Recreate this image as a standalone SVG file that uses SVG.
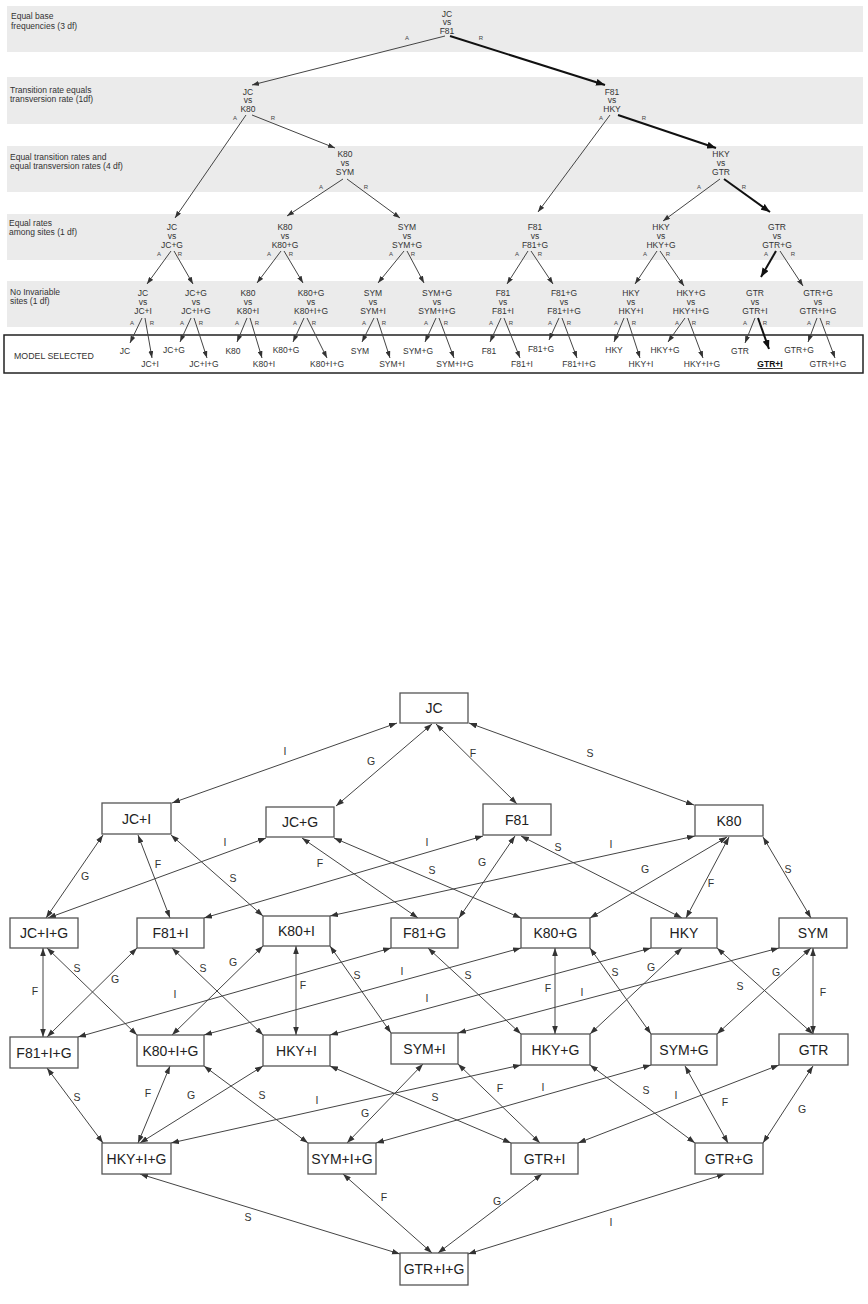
<svg xmlns="http://www.w3.org/2000/svg" width="868" height="1304" viewBox="0 0 868 1304">
<style>
text{font-family:"Liberation Sans",Arial,sans-serif}
.band{fill:#ebebeb}
.bt{font-size:8.5px;fill:#333}
.tn{font-size:8.5px;fill:#333;text-anchor:middle}
.ar{font-size:6px;fill:#444;text-anchor:middle}
.ms{font-size:8.5px;fill:#333;text-anchor:middle}
.tl{stroke:#444;stroke-width:1;fill:none;marker-end:url(#ta)}
.tk{stroke:#111;stroke-width:2;fill:none;marker-end:url(#tk)}
.box{fill:#fff;stroke:#555;stroke-width:1.3}
.nt{font-size:14px;fill:#222;text-anchor:middle}
.e{stroke:#444;stroke-width:1;fill:none;marker-start:url(#la);marker-end:url(#la)}
.el{font-size:10.5px;fill:#333;text-anchor:middle}
</style>
<defs>
<marker id="ta" markerUnits="userSpaceOnUse" markerWidth="7" markerHeight="5" refX="7" refY="2.5" orient="auto"><path d="M0,0 L7,2.5 L0,5 z" fill="#333"/></marker>
<marker id="tk" markerUnits="userSpaceOnUse" markerWidth="9" markerHeight="7" refX="9" refY="3.5" orient="auto"><path d="M0,0 L9,3.5 L0,7 z" fill="#111"/></marker>
<marker id="la" markerUnits="userSpaceOnUse" markerWidth="8" markerHeight="6" refX="8" refY="3" orient="auto-start-reverse"><path d="M0,0.2 L8,3 L0,5.8 z" fill="#333"/></marker>
</defs>
<rect width="868" height="1304" fill="#fff"/>

<g id="bands">
<rect class="band" x="7" y="6" width="856" height="46"/>
<rect class="band" x="7" y="77" width="856" height="47"/>
<rect class="band" x="7" y="146" width="856" height="46"/>
<rect class="band" x="7" y="214" width="856" height="46"/>
<rect class="band" x="7" y="281" width="856" height="46"/>
<text class="bt" x="11" y="19">Equal base</text>
<text class="bt" x="11" y="29">frequencies (3 df)</text>
<text class="bt" x="10" y="93">Transition rate equals</text>
<text class="bt" x="10" y="102">transversion rate (1df)</text>
<text class="bt" x="10" y="159.5">Equal transition rates and</text>
<text class="bt" x="10" y="168.5">equal transversion rates (4 df)</text>
<text class="bt" x="9" y="225.5">Equal rates</text>
<text class="bt" x="9" y="234.5">among sites (1 df)</text>
<text class="bt" x="10" y="294.5">No Invariable</text>
<text class="bt" x="10" y="303.5">sites (1 df)</text>
<rect x="4" y="335" width="859" height="38" fill="#fff" stroke="#222" stroke-width="1.5"/>
<text x="14" y="359" style="font-size:8.8px;fill:#333">MODEL SELECTED</text>
</g>

<g id="tree-nodes">
<g id="t-jc-f81"><text class="tn" x="447" y="16.5">JC</text><text class="tn" x="447" y="25">vs</text><text class="tn" x="447" y="33.5">F81</text><text class="ar" x="407" y="40">A</text><text class="ar" x="481" y="40">R</text></g>
<g id="t-jc-k80"><text class="tn" x="248" y="94.5">JC</text><text class="tn" x="248" y="103">vs</text><text class="tn" x="248" y="112">K80</text><text class="ar" x="235" y="120">A</text><text class="ar" x="273" y="120">R</text></g>
<g id="t-f81-hky"><text class="tn" x="612" y="94.5">F81</text><text class="tn" x="612" y="103">vs</text><text class="tn" x="612" y="112">HKY</text><text class="ar" x="601" y="120">A</text><text class="ar" x="644" y="120">R</text></g>
<g id="t-k80-sym"><text class="tn" x="345" y="157">K80</text><text class="tn" x="345" y="166">vs</text><text class="tn" x="345" y="175">SYM</text><text class="ar" x="321" y="189">A</text><text class="ar" x="366" y="189">R</text></g>
<g id="t-hky-gtr"><text class="tn" x="721" y="157">HKY</text><text class="tn" x="721" y="166">vs</text><text class="tn" x="721" y="175">GTR</text><text class="ar" x="699" y="189">A</text><text class="ar" x="744" y="189">R</text></g>

<g id="t-jc-jcg"><text class="tn" x="172" y="230">JC</text><text class="tn" x="172" y="239">vs</text><text class="tn" x="172" y="248">JC+G</text><text class="ar" x="159" y="256">A</text><text class="ar" x="180" y="256">R</text></g>
<g id="t-k80-k80g"><text class="tn" x="285" y="230">K80</text><text class="tn" x="285" y="239">vs</text><text class="tn" x="285" y="248">K80+G</text><text class="ar" x="269" y="256">A</text><text class="ar" x="291" y="256">R</text></g>
<g id="t-sym-symg"><text class="tn" x="407" y="230">SYM</text><text class="tn" x="407" y="239">vs</text><text class="tn" x="407" y="248">SYM+G</text><text class="ar" x="391" y="256">A</text><text class="ar" x="413" y="256">R</text></g>
<g id="t-f81-f81g"><text class="tn" x="535" y="230">F81</text><text class="tn" x="535" y="239">vs</text><text class="tn" x="535" y="248">F81+G</text><text class="ar" x="517" y="256">A</text><text class="ar" x="540" y="256">R</text></g>
<g id="t-hky-hkyg"><text class="tn" x="661" y="230">HKY</text><text class="tn" x="661" y="239">vs</text><text class="tn" x="661" y="248">HKY+G</text><text class="ar" x="645" y="256">A</text><text class="ar" x="668" y="256">R</text></g>
<g id="t-gtr-gtrg"><text class="tn" x="777" y="230">GTR</text><text class="tn" x="777" y="239">vs</text><text class="tn" x="777" y="248">GTR+G</text><text class="ar" x="766" y="256">A</text><text class="ar" x="793" y="256">R</text></g>

<g id="t-jc-jci"><text class="tn" x="143" y="296">JC</text><text class="tn" x="143" y="305">vs</text><text class="tn" x="143" y="314">JC+I</text><text class="ar" x="132" y="325">A</text><text class="ar" x="152" y="325">R</text></g>
<g id="t-jcg-jcig"><text class="tn" x="196" y="296">JC+G</text><text class="tn" x="196" y="305">vs</text><text class="tn" x="196" y="314">JC+I+G</text><text class="ar" x="182" y="325">A</text><text class="ar" x="201" y="325">R</text></g>
<g id="t-k80-k80i"><text class="tn" x="248" y="296">K80</text><text class="tn" x="248" y="305">vs</text><text class="tn" x="248" y="314">K80+I</text><text class="ar" x="237" y="325">A</text><text class="ar" x="257" y="325">R</text></g>
<g id="t-k80g-k80ig"><text class="tn" x="311" y="296">K80+G</text><text class="tn" x="311" y="305">vs</text><text class="tn" x="311" y="314">K80+I+G</text><text class="ar" x="295" y="325">A</text><text class="ar" x="314" y="325">R</text></g>
<g id="t-sym-symi"><text class="tn" x="373" y="296">SYM</text><text class="tn" x="373" y="305">vs</text><text class="tn" x="373" y="314">SYM+I</text><text class="ar" x="364" y="325">A</text><text class="ar" x="384" y="325">R</text></g>
<g id="t-symg-symig"><text class="tn" x="437" y="296">SYM+G</text><text class="tn" x="437" y="305">vs</text><text class="tn" x="437" y="314">SYM+I+G</text><text class="ar" x="426" y="325">A</text><text class="ar" x="446" y="325">R</text></g>
<g id="t-f81-f81i"><text class="tn" x="503" y="296">F81</text><text class="tn" x="503" y="305">vs</text><text class="tn" x="503" y="314">F81+I</text><text class="ar" x="491" y="325">A</text><text class="ar" x="511" y="325">R</text></g>
<g id="t-f81g-f81ig"><text class="tn" x="564" y="296">F81+G</text><text class="tn" x="564" y="305">vs</text><text class="tn" x="564" y="314">F81+I+G</text><text class="ar" x="550" y="325">A</text><text class="ar" x="569" y="325">R</text></g>
<g id="t-hky-hkyi"><text class="tn" x="631" y="296">HKY</text><text class="tn" x="631" y="305">vs</text><text class="tn" x="631" y="314">HKY+I</text><text class="ar" x="616" y="325">A</text><text class="ar" x="634" y="325">R</text></g>
<g id="t-hkyg-hkyig"><text class="tn" x="691" y="296">HKY+G</text><text class="tn" x="691" y="305">vs</text><text class="tn" x="691" y="314">HKY+I+G</text><text class="ar" x="677" y="325">A</text><text class="ar" x="694" y="325">R</text></g>
<g id="t-gtr-gtri"><text class="tn" x="755" y="296">GTR</text><text class="tn" x="755" y="305">vs</text><text class="tn" x="755" y="314">GTR+I</text><text class="ar" x="745" y="325">A</text><text class="ar" x="765" y="325">R</text></g>
<g id="t-gtrg-gtrig"><text class="tn" x="818" y="296">GTR+G</text><text class="tn" x="818" y="305">vs</text><text class="tn" x="818" y="314">GTR+I+G</text><text class="ar" x="809" y="325">A</text><text class="ar" x="828" y="325">R</text></g>
</g>

<g id="selected-models">
<text class="ms" x="125" y="354">JC</text><text class="ms" x="150" y="367">JC+I</text>
<text class="ms" x="174" y="353">JC+G</text><text class="ms" x="204" y="367">JC+I+G</text>
<text class="ms" x="233" y="354">K80</text><text class="ms" x="264" y="367">K80+I</text>
<text class="ms" x="286" y="353">K80+G</text><text class="ms" x="327" y="367">K80+I+G</text>
<text class="ms" x="360" y="354">SYM</text><text class="ms" x="392" y="367">SYM+I</text>
<text class="ms" x="418" y="354">SYM+G</text><text class="ms" x="455" y="367">SYM+I+G</text>
<text class="ms" x="489" y="354">F81</text><text class="ms" x="522" y="367">F81+I</text>
<text class="ms" x="541" y="352">F81+G</text><text class="ms" x="579" y="367">F81+I+G</text>
<text class="ms" x="614" y="353">HKY</text><text class="ms" x="641" y="367">HKY+I</text>
<text class="ms" x="665" y="353">HKY+G</text><text class="ms" x="702" y="367">HKY+I+G</text>
<text class="ms" x="740" y="354">GTR</text>
<text class="ms" x="770" y="367" style="font-weight:bold;fill:#111;text-decoration:underline">GTR+I</text>
<text class="ms" x="799" y="353">GTR+G</text><text class="ms" x="828" y="367">GTR+I+G</text>
</g>

<g id="tree-connectors">
<line class="tl" x1="445" y1="36" x2="252" y2="85"/>
<line class="tk" x1="450" y1="36" x2="605" y2="85"/>
<line class="tl" x1="246" y1="115" x2="175" y2="218"/>
<line class="tl" x1="252" y1="115" x2="335" y2="148"/>
<line class="tl" x1="610" y1="115" x2="538" y2="212"/>
<line class="tk" x1="618" y1="115" x2="716" y2="148"/>
<line class="tl" x1="343" y1="179" x2="287" y2="216"/>
<line class="tl" x1="347" y1="179" x2="400" y2="218"/>
<line class="tl" x1="720" y1="179" x2="663" y2="221"/>
<line class="tk" x1="724" y1="179" x2="770" y2="212"/>

<line class="tl" x1="171" y1="251" x2="147" y2="284"/>
<line class="tl" x1="174" y1="251" x2="193" y2="284"/>
<line class="tl" x1="281" y1="251" x2="257" y2="283"/>
<line class="tl" x1="284" y1="251" x2="303" y2="283"/>
<line class="tl" x1="404" y1="251" x2="378" y2="283"/>
<line class="tl" x1="407" y1="251" x2="424" y2="283"/>
<line class="tl" x1="528" y1="251" x2="507" y2="284"/>
<line class="tl" x1="531" y1="251" x2="553" y2="284"/>
<line class="tl" x1="657" y1="251" x2="635" y2="284"/>
<line class="tl" x1="660" y1="251" x2="684" y2="286"/>
<line class="tk" x1="776" y1="251" x2="761" y2="277"/>
<line class="tl" x1="780" y1="251" x2="803" y2="286"/>

<line class="tl" x1="142" y1="318" x2="130" y2="343"/>
<line class="tl" x1="145" y1="318" x2="152" y2="358"/>
<line class="tl" x1="191" y1="318" x2="180" y2="342"/>
<line class="tl" x1="194" y1="318" x2="207" y2="358"/>
<line class="tl" x1="247" y1="318" x2="237" y2="342"/>
<line class="tl" x1="250" y1="318" x2="262" y2="358"/>
<line class="tl" x1="304" y1="318" x2="293" y2="342"/>
<line class="tl" x1="307" y1="318" x2="327" y2="358"/>
<line class="tl" x1="374" y1="318" x2="362" y2="342"/>
<line class="tl" x1="377" y1="318" x2="390" y2="358"/>
<line class="tl" x1="436" y1="318" x2="425" y2="342"/>
<line class="tl" x1="439" y1="318" x2="454" y2="358"/>
<line class="tl" x1="501" y1="318" x2="490" y2="342"/>
<line class="tl" x1="504" y1="318" x2="520" y2="358"/>
<line class="tl" x1="559" y1="318" x2="549" y2="340"/>
<line class="tl" x1="562" y1="318" x2="577" y2="358"/>
<line class="tl" x1="624" y1="318" x2="614" y2="342"/>
<line class="tl" x1="627" y1="318" x2="640" y2="358"/>
<line class="tl" x1="685" y1="318" x2="668" y2="342"/>
<line class="tl" x1="688" y1="318" x2="703" y2="358"/>
<line class="tl" x1="755" y1="318" x2="745" y2="343"/>
<line class="tk" x1="758" y1="318" x2="769" y2="349"/>
<line class="tl" x1="817" y1="318" x2="808" y2="342"/>
<line class="tl" x1="820" y1="318" x2="835" y2="358"/>
</g>

<g id="lattice-connectors">
<line class="e" x1="397" y1="723" x2="172" y2="803"/>
<line class="e" x1="432" y1="724" x2="336" y2="806"/>
<line class="e" x1="436" y1="724" x2="517" y2="804"/>
<line class="e" x1="469" y1="723" x2="694" y2="805"/>
<line class="e" x1="103" y1="835" x2="46" y2="918"/>
<line class="e" x1="138" y1="835" x2="170" y2="918"/>
<line class="e" x1="171" y1="835" x2="263" y2="916"/>
<line class="e" x1="266" y1="838" x2="48" y2="918"/>
<line class="e" x1="302" y1="838" x2="418" y2="918"/>
<line class="e" x1="334" y1="838" x2="521" y2="918"/>
<line class="e" x1="483" y1="836" x2="204" y2="918"/>
<line class="e" x1="515" y1="836" x2="459" y2="918"/>
<line class="e" x1="521" y1="836" x2="682" y2="918"/>
<line class="e" x1="695" y1="836" x2="330" y2="916"/>
<line class="e" x1="727" y1="837" x2="590" y2="918"/>
<line class="e" x1="729" y1="837" x2="686" y2="918"/>
<line class="e" x1="763" y1="837" x2="811" y2="918"/>
<line class="e" x1="43" y1="948" x2="43" y2="1037"/>
<line class="e" x1="47" y1="948" x2="137" y2="1035"/>
<line class="e" x1="137" y1="948" x2="47" y2="1037"/>
<line class="e" x1="172" y1="948" x2="263" y2="1035"/>
<line class="e" x1="263" y1="946" x2="172" y2="1035"/>
<line class="e" x1="296" y1="946" x2="296" y2="1035"/>
<line class="e" x1="330" y1="946" x2="391" y2="1033"/>
<line class="e" x1="391" y1="948" x2="78" y2="1037"/>
<line class="e" x1="428" y1="948" x2="521" y2="1034"/>
<line class="e" x1="521" y1="948" x2="204" y2="1035"/>
<line class="e" x1="555" y1="948" x2="555" y2="1034"/>
<line class="e" x1="590" y1="948" x2="651" y2="1034"/>
<line class="e" x1="651" y1="948" x2="330" y2="1035"/>
<line class="e" x1="682" y1="948" x2="590" y2="1034"/>
<line class="e" x1="717" y1="948" x2="813" y2="1034"/>
<line class="e" x1="779" y1="948" x2="458" y2="1033"/>
<line class="e" x1="811" y1="948" x2="717" y2="1034"/>
<line class="e" x1="813" y1="948" x2="813" y2="1034"/>
<line class="e" x1="47" y1="1068" x2="103" y2="1143"/>
<line class="e" x1="170" y1="1066" x2="138" y2="1143"/>
<line class="e" x1="263" y1="1066" x2="140" y2="1143"/>
<line class="e" x1="521" y1="1065" x2="171" y2="1143"/>
<line class="e" x1="204" y1="1066" x2="308" y2="1143"/>
<line class="e" x1="423" y1="1064" x2="347" y2="1143"/>
<line class="e" x1="651" y1="1065" x2="376" y2="1143"/>
<line class="e" x1="330" y1="1066" x2="511" y2="1143"/>
<line class="e" x1="458" y1="1064" x2="540" y2="1143"/>
<line class="e" x1="590" y1="1065" x2="695" y2="1143"/>
<line class="e" x1="685" y1="1066" x2="728" y2="1143"/>
<line class="e" x1="779" y1="1065" x2="578" y2="1143"/>
<line class="e" x1="813" y1="1066" x2="763" y2="1143"/>
<line class="e" x1="140" y1="1174" x2="400" y2="1254"/>
<line class="e" x1="343" y1="1174" x2="432" y2="1253"/>
<line class="e" x1="542" y1="1174" x2="438" y2="1253"/>
<line class="e" x1="725" y1="1174" x2="468" y2="1254"/>
<g id="edge-labels">
<text class="el" x="285" y="755">I</text>
<text class="el" x="371" y="765">G</text>
<text class="el" x="473" y="757">F</text>
<text class="el" x="590" y="757">S</text>
<text class="el" x="85" y="880">G</text>
<text class="el" x="158" y="868">F</text>
<text class="el" x="233" y="882">S</text>
<text class="el" x="225" y="846">I</text>
<text class="el" x="320" y="867">F</text>
<text class="el" x="432" y="874">S</text>
<text class="el" x="427" y="846">I</text>
<text class="el" x="482" y="866">G</text>
<text class="el" x="558" y="851">S</text>
<text class="el" x="611" y="848">I</text>
<text class="el" x="645" y="873">G</text>
<text class="el" x="711" y="887">F</text>
<text class="el" x="788" y="873">S</text>
<text class="el" x="35" y="995">F</text>
<text class="el" x="77" y="972">S</text>
<text class="el" x="115" y="983">G</text>
<text class="el" x="175" y="998">I</text>
<text class="el" x="203" y="972">S</text>
<text class="el" x="233" y="966">G</text>
<text class="el" x="303" y="989">F</text>
<text class="el" x="357" y="979">S</text>
<text class="el" x="402" y="975">I</text>
<text class="el" x="468" y="979">S</text>
<text class="el" x="548" y="992">F</text>
<text class="el" x="615" y="976">S</text>
<text class="el" x="427" y="1002">I</text>
<text class="el" x="651" y="971">G</text>
<text class="el" x="740" y="990">S</text>
<text class="el" x="582" y="996">I</text>
<text class="el" x="776" y="976">G</text>
<text class="el" x="823" y="996">F</text>
<text class="el" x="77" y="1101">S</text>
<text class="el" x="148" y="1097">F</text>
<text class="el" x="191" y="1099">G</text>
<text class="el" x="317" y="1104">I</text>
<text class="el" x="262" y="1099">S</text>
<text class="el" x="365" y="1117">G</text>
<text class="el" x="543" y="1091">I</text>
<text class="el" x="435" y="1101">S</text>
<text class="el" x="500" y="1092">F</text>
<text class="el" x="646" y="1094">S</text>
<text class="el" x="725" y="1106">F</text>
<text class="el" x="676" y="1099">I</text>
<text class="el" x="802" y="1113">G</text>
<text class="el" x="248" y="1221">S</text>
<text class="el" x="384" y="1201">F</text>
<text class="el" x="497" y="1205">G</text>
<text class="el" x="611" y="1226">I</text>
</g>
</g>

<g id="lattice-nodes">
<g id="n-jc"><rect class="box" x="400" y="693" width="68" height="30"/><text class="nt" x="434" y="713">JC</text></g>
<g id="n-jci"><rect class="box" x="102" y="803" width="69" height="31"/><text class="nt" x="136.5" y="823.5">JC+I</text></g>
<g id="n-jcg"><rect class="box" x="266" y="807" width="68" height="30"/><text class="nt" x="300" y="827">JC+G</text></g>
<g id="n-f81"><rect class="box" x="483" y="804" width="68" height="31"/><text class="nt" x="517" y="824.5">F81</text></g>
<g id="n-k80"><rect class="box" x="695" y="805" width="68" height="31"/><text class="nt" x="729" y="825.5">K80</text></g>
<g id="n-jcig"><rect class="box" x="10" y="918" width="68" height="30"/><text class="nt" x="44" y="938">JC+I+G</text></g>
<g id="n-f81i"><rect class="box" x="137" y="918" width="67" height="30"/><text class="nt" x="170.5" y="938">F81+I</text></g>
<g id="n-k80i"><rect class="box" x="263" y="916" width="67" height="30"/><text class="nt" x="296.5" y="936">K80+I</text></g>
<g id="n-f81g"><rect class="box" x="391" y="918" width="67" height="30"/><text class="nt" x="424.5" y="938">F81+G</text></g>
<g id="n-k80g"><rect class="box" x="521" y="918" width="69" height="30"/><text class="nt" x="555.5" y="938">K80+G</text></g>
<g id="n-hky"><rect class="box" x="651" y="918" width="66" height="30"/><text class="nt" x="684" y="938">HKY</text></g>
<g id="n-sym"><rect class="box" x="779" y="918" width="68" height="30"/><text class="nt" x="813" y="938">SYM</text></g>
<g id="n-f81ig"><rect class="box" x="10" y="1037" width="68" height="31"/><text class="nt" x="44" y="1057.5">F81+I+G</text></g>
<g id="n-k80ig"><rect class="box" x="137" y="1035" width="67" height="31"/><text class="nt" x="170.5" y="1055.5">K80+I+G</text></g>
<g id="n-hkyi"><rect class="box" x="263" y="1035" width="67" height="31"/><text class="nt" x="296.5" y="1055.5">HKY+I</text></g>
<g id="n-symi"><rect class="box" x="391" y="1033" width="67" height="31"/><text class="nt" x="424.5" y="1053.5">SYM+I</text></g>
<g id="n-hkyg"><rect class="box" x="521" y="1034" width="69" height="31"/><text class="nt" x="555.5" y="1054.5">HKY+G</text></g>
<g id="n-symg"><rect class="box" x="651" y="1034" width="66" height="31"/><text class="nt" x="684" y="1054.5">SYM+G</text></g>
<g id="n-gtr"><rect class="box" x="779" y="1034" width="69" height="31"/><text class="nt" x="813.5" y="1054.5">GTR</text></g>
<g id="n-hkyig"><rect class="box" x="102" y="1143" width="69" height="31"/><text class="nt" x="136.5" y="1163.5">HKY+I+G</text></g>
<g id="n-symig"><rect class="box" x="308" y="1143" width="68" height="31"/><text class="nt" x="342" y="1163.5">SYM+I+G</text></g>
<g id="n-gtri"><rect class="box" x="511" y="1143" width="67" height="31"/><text class="nt" x="544.5" y="1163.5">GTR+I</text></g>
<g id="n-gtrg"><rect class="box" x="695" y="1143" width="68" height="31"/><text class="nt" x="729" y="1163.5">GTR+G</text></g>
<g id="n-gtrig"><rect class="box" x="400" y="1253" width="68" height="32"/><text class="nt" x="434" y="1274">GTR+I+G</text></g>
</g>
</svg>
